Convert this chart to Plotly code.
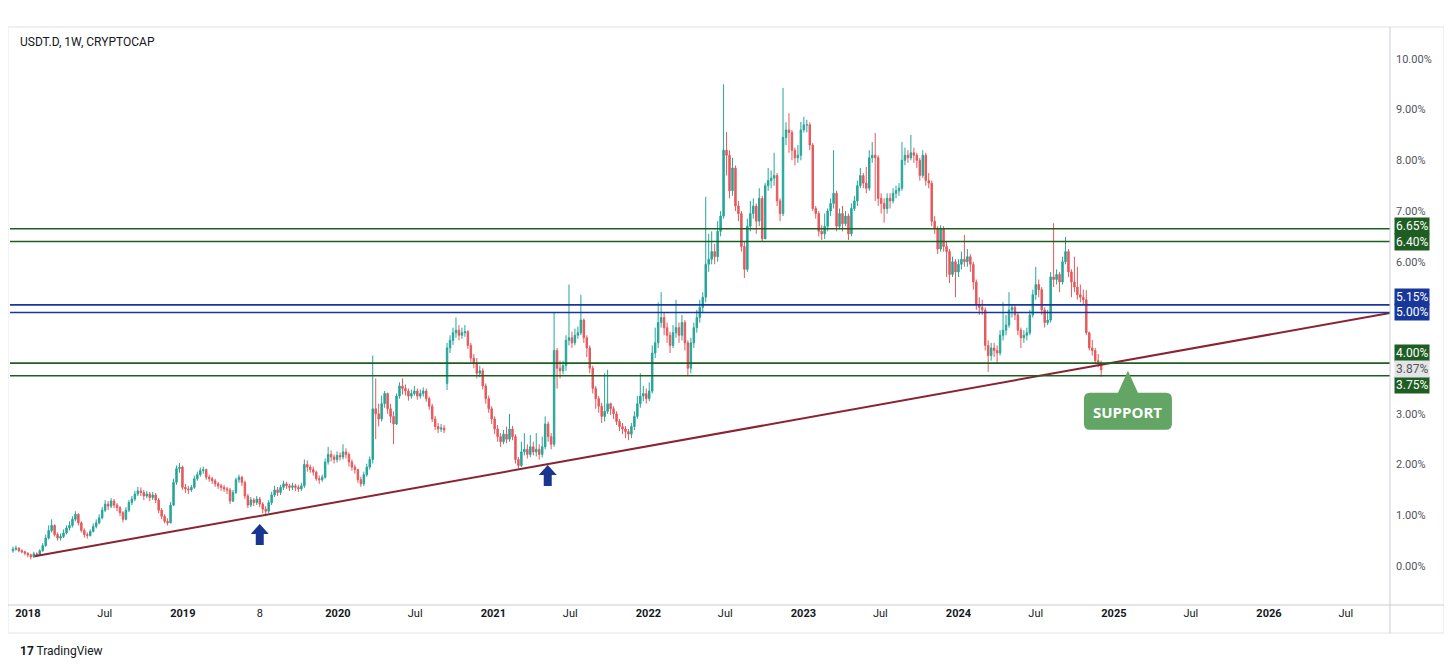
import pandas as pd
import plotly.graph_objects as go

# weekly USDT dominance candles (%), first week 2017-11-27
first_open = 0.30
closes = [
    0.33, 0.35, 0.30, 0.28, 0.25, 0.22, 0.18, 0.24, 0.22, 0.30,
    0.40, 0.55, 0.70, 0.80, 0.62, 0.55, 0.58, 0.65, 0.75, 0.80,
    0.92, 1.02, 0.85, 0.70, 0.62, 0.60, 0.68, 0.78, 0.85, 0.95,
    1.10, 1.22, 1.18, 1.28, 1.20, 1.15, 1.05, 0.92, 1.10, 1.25,
    1.32, 1.42, 1.48, 1.45, 1.38, 1.42, 1.35, 1.40, 1.30, 1.10,
    0.98, 0.88, 0.85, 1.20, 1.65, 1.92, 1.95, 1.55, 1.52, 1.50,
    1.55, 1.72, 1.80, 1.88, 1.90, 1.75, 1.72, 1.68, 1.62, 1.58,
    1.55, 1.52, 1.50, 1.28, 1.45, 1.70, 1.75, 1.65, 1.38, 1.20,
    1.30, 1.25, 1.32, 1.22, 1.12, 1.08, 1.25, 1.40, 1.50, 1.45,
    1.55, 1.62, 1.58, 1.55, 1.58, 1.55, 1.52, 1.58, 2.00, 1.95,
    1.90, 1.85, 1.72, 1.70, 1.75, 2.05, 2.20, 2.15, 2.10, 2.18,
    2.15, 2.25, 2.20, 2.05, 1.95, 1.90, 1.70, 1.62, 1.80,
    1.95, 2.10, 3.10, 3.00, 2.90, 3.20, 3.40, 3.10, 2.95, 2.80,
    3.35, 3.55, 3.50, 3.45, 3.35, 3.40, 3.45, 3.35, 3.40, 3.45,
    3.30, 3.15, 2.90, 2.75, 2.70, 2.72, 2.68, 4.30, 4.45, 4.60,
    4.65, 4.55, 4.60, 4.62, 4.35, 4.10, 4.00, 3.80, 3.85, 3.55,
    3.30, 3.10, 2.90, 2.70, 2.55, 2.45, 2.60, 2.50, 2.70, 2.55,
    2.10, 1.98, 2.25, 2.30, 2.20, 2.35, 2.25, 2.30, 2.20, 2.35,
    2.80, 2.55, 2.40, 4.25, 3.90, 3.85, 3.95, 4.45, 4.50, 4.40,
    4.55, 4.60, 4.85, 4.50, 4.30, 3.90, 3.50, 3.30, 3.15, 2.95,
    3.05, 3.20, 3.10, 3.00, 2.85, 2.75, 2.70, 2.65, 2.60,
    2.75, 2.95, 3.20, 3.35, 3.40, 3.30, 3.45, 4.20, 4.40, 4.80,
    4.90, 4.70, 4.55, 4.35, 4.60, 4.70, 4.55, 4.80, 4.40, 3.90,
    4.40, 4.70, 4.90, 5.10, 5.30, 5.95, 6.05, 6.20, 6.10, 6.60,
    6.90, 8.20, 8.10, 7.40, 7.85, 7.10, 6.95, 6.30, 5.85, 6.70,
    6.95, 7.10, 6.80, 7.25, 6.45, 7.50, 7.60, 7.65, 7.70, 7.20,
    6.95, 8.45, 8.60, 8.55, 8.20, 8.05, 8.10, 8.60, 8.70, 8.70,
    8.30, 7.05, 6.95, 6.60, 6.55, 6.70, 7.00, 7.15, 7.35,
    6.70, 6.95, 6.75, 6.90, 6.55, 7.05, 7.20, 7.50, 7.70, 7.55,
    7.45, 8.05, 8.10, 8.05, 7.25, 7.15, 7.05, 7.25, 7.20, 7.35,
    7.40, 7.45, 8.00, 8.10, 8.05, 8.15, 8.10, 8.00, 7.70, 8.10,
    7.60, 7.55, 6.80, 6.65, 6.25, 6.65, 6.30, 6.20, 5.75, 6.00,
    5.80, 5.95, 6.05, 6.00, 6.10, 5.95, 5.60, 5.15, 5.10, 5.05,
    4.35, 4.15, 4.30, 4.25, 4.20, 4.55, 4.65, 4.75, 5.05, 5.10,
    4.95, 4.65, 4.50, 4.55, 4.60, 4.95, 5.35, 5.55, 5.45, 5.05,
    4.80, 4.85, 5.70, 5.65, 5.75, 5.60, 6.00, 6.20, 5.80, 5.60,
    5.50, 5.35, 5.30, 5.25, 4.60, 4.30, 4.25, 4.05, 4.00, 3.87,
]
highs = [
    0.38, 0.40, 0.37, 0.33, 0.30, 0.27, 0.24, 0.28, 0.27, 0.33,
    0.45, 0.62, 0.80, 0.92, 0.82, 0.66, 0.64, 0.72, 0.80, 0.88,
    0.98, 1.08, 1.04, 0.88, 0.74, 0.66, 0.72, 0.84, 0.92, 1.02,
    1.16, 1.30, 1.28, 1.34, 1.32, 1.24, 1.18, 1.08, 1.16, 1.30,
    1.38, 1.48, 1.56, 1.55, 1.50, 1.48, 1.46, 1.46, 1.44, 1.34,
    1.14, 1.02, 0.94, 1.26, 1.72, 1.98, 2.03, 1.98, 1.62, 1.58,
    1.60, 1.78, 1.86, 1.94, 1.96, 1.92, 1.80, 1.76, 1.72, 1.66,
    1.62, 1.60, 1.56, 1.54, 1.50, 1.74, 1.80, 1.78, 1.68, 1.42,
    1.36, 1.34, 1.38, 1.36, 1.26, 1.18, 1.30, 1.46, 1.58, 1.56,
    1.60, 1.68, 1.66, 1.62, 1.64, 1.62, 1.60, 1.64, 2.10, 2.08,
    2.00, 1.96, 1.88, 1.78, 1.80, 2.12, 2.35, 2.28, 2.20, 2.26,
    2.24, 2.40, 2.32, 2.24, 2.10, 2.00, 1.92, 1.76, 1.86,
    2.02, 2.16, 4.15, 3.70, 3.20, 3.36, 3.45, 3.42, 3.20, 3.05,
    3.40, 3.62, 3.70, 3.58, 3.50, 3.48, 3.55, 3.50, 3.48, 3.52,
    3.50, 3.34, 3.20, 2.96, 2.82, 2.80, 2.78, 4.40, 4.55, 4.70,
    4.90, 4.75, 4.70, 4.75, 4.65, 4.40, 4.18, 4.10, 3.95, 3.90,
    3.60, 3.36, 3.15, 2.95, 2.78, 2.62, 2.68, 2.75, 3.00, 2.76,
    2.60, 2.15, 2.45, 2.62, 2.40, 2.58, 2.45, 2.62, 2.40, 2.55,
    2.95, 2.85, 2.62, 5.00, 4.30, 4.05, 4.05, 4.55, 5.55, 4.62,
    4.68, 4.72, 5.35, 4.88, 4.55, 4.35, 3.95, 3.55, 3.35, 3.22,
    3.80, 3.87, 3.22, 3.15, 3.05, 2.90, 2.82, 2.76, 2.70,
    2.82, 3.05, 3.35, 3.80, 3.55, 3.50, 3.62, 4.35, 4.70, 5.20,
    5.40, 5.00, 4.80, 4.62, 4.75, 5.25, 4.80, 4.95, 4.85, 4.45,
    4.50, 4.80, 5.05, 5.25, 5.40, 7.28, 6.55, 6.60, 6.35, 6.80,
    7.00, 9.50, 8.56, 8.20, 8.05, 7.90, 7.20, 7.00, 6.40, 6.85,
    7.20, 7.25, 7.15, 7.45, 7.30, 7.55, 7.85, 7.80, 8.15, 7.75,
    7.25, 9.43, 8.75, 8.93, 8.60, 8.25, 8.30, 8.76, 8.86, 8.80,
    8.75, 8.34, 7.10, 7.00, 6.72, 6.95, 7.05, 7.25, 8.20,
    7.40, 7.05, 7.10, 7.00, 6.95, 7.15, 7.30, 7.60, 7.85, 7.75,
    7.87, 8.20, 8.36, 8.54, 8.10, 7.35, 7.25, 7.35, 7.35, 7.45,
    7.50, 7.55, 8.36, 8.25, 8.20, 8.50, 8.25, 8.15, 8.05, 8.20,
    8.15, 7.75, 7.60, 6.90, 6.70, 6.72, 6.70, 6.40, 6.25, 6.10,
    6.05, 6.05, 6.20, 6.53, 6.25, 6.15, 6.00, 5.65, 5.30, 5.25,
    5.10, 4.45, 4.40, 4.40, 4.35, 4.65, 5.20, 4.95, 5.40, 5.15,
    5.15, 5.00, 4.70, 4.65, 4.70, 5.05, 5.45, 5.90, 5.65, 5.50,
    5.10, 5.05, 5.80, 6.76, 5.85, 5.80, 6.10, 6.49, 6.25, 5.85,
    6.10, 5.90, 5.55, 5.45, 5.44, 4.62, 4.46, 4.30, 4.18, 4.05,
]
lows = [
    0.26, 0.30, 0.27, 0.25, 0.21, 0.17, 0.13, 0.16, 0.18, 0.20,
    0.28, 0.38, 0.52, 0.66, 0.58, 0.50, 0.50, 0.55, 0.62, 0.70,
    0.76, 0.88, 0.80, 0.66, 0.56, 0.54, 0.58, 0.66, 0.74, 0.82,
    0.92, 1.06, 1.10, 1.14, 1.14, 1.08, 0.98, 0.86, 0.90, 1.06,
    1.20, 1.28, 1.38, 1.38, 1.30, 1.34, 1.28, 1.30, 1.24, 1.04,
    0.92, 0.84, 0.80, 0.84, 1.18, 1.60, 1.84, 1.50, 1.44, 1.42,
    1.46, 1.52, 1.68, 1.76, 1.82, 1.70, 1.66, 1.62, 1.56, 1.52,
    1.48, 1.46, 1.42, 1.22, 1.26, 1.42, 1.64, 1.58, 1.32, 1.14,
    1.16, 1.18, 1.20, 1.16, 1.04, 0.98, 1.04, 1.20, 1.36, 1.38,
    1.40, 1.50, 1.52, 1.48, 1.50, 1.48, 1.46, 1.48, 1.54, 1.86,
    1.84, 1.78, 1.68, 1.62, 1.66, 1.72, 2.00, 2.06, 2.02, 2.04,
    2.08, 2.10, 2.12, 1.96, 1.88, 1.82, 1.64, 1.56, 1.58,
    1.76, 1.90, 2.02, 2.50, 2.75, 2.85, 3.12, 3.00, 2.82, 2.40,
    2.78, 3.30, 3.38, 3.36, 3.26, 3.30, 3.36, 3.28, 3.30, 3.34,
    3.24, 3.08, 2.84, 2.68, 2.62, 2.64, 2.62, 3.47, 4.20, 4.36,
    4.50, 4.45, 4.48, 4.52, 4.28, 4.02, 3.90, 3.70, 3.72, 3.48,
    3.20, 3.02, 2.80, 2.60, 2.45, 2.35, 2.40, 2.42, 2.45, 2.48,
    2.02, 1.92, 1.95, 2.18, 2.12, 2.15, 2.18, 2.16, 2.10, 2.14,
    2.30, 2.45, 2.30, 2.35, 3.50, 3.70, 3.78, 3.85, 4.35, 4.30,
    4.35, 4.48, 4.55, 4.40, 4.12, 3.80, 3.40, 3.10, 3.02, 2.82,
    2.85, 3.00, 2.98, 2.90, 2.78, 2.66, 2.60, 2.52, 2.48,
    2.52, 2.68, 2.90, 3.12, 3.25, 3.20, 3.25, 3.40, 4.10, 4.30,
    4.70, 4.55, 4.40, 4.20, 4.30, 4.50, 4.40, 4.45, 4.25, 3.75,
    3.80, 4.30, 4.60, 4.80, 5.00, 5.20, 5.80, 5.95, 5.95, 6.00,
    6.50, 6.85, 7.70, 7.25, 7.30, 7.00, 6.80, 6.20, 5.68, 5.80,
    6.60, 6.85, 6.55, 6.70, 6.40, 6.45, 7.40, 7.45, 7.50, 7.10,
    6.80, 6.90, 8.30, 8.15, 8.00, 7.90, 7.95, 8.00, 8.55, 8.55,
    8.20, 7.00, 6.85, 6.50, 6.43, 6.45, 6.60, 6.90, 7.05,
    6.60, 6.65, 6.60, 6.70, 6.43, 6.50, 7.00, 7.10, 7.45, 7.45,
    7.35, 7.40, 7.95, 7.20, 7.10, 6.95, 6.77, 6.95, 7.05, 7.15,
    7.25, 7.30, 7.40, 7.90, 7.95, 8.00, 7.95, 7.85, 7.60, 7.65,
    7.50, 7.45, 6.70, 6.55, 6.15, 6.20, 6.20, 5.70, 5.58, 5.70,
    5.30, 5.70, 5.85, 5.90, 5.90, 5.80, 5.45, 5.05, 4.95, 4.95,
    4.25, 3.83, 4.05, 4.12, 4.00, 4.15, 4.45, 4.55, 4.70, 4.90,
    4.85, 4.55, 4.30, 4.40, 4.45, 4.55, 4.90, 5.25, 5.30, 4.95,
    4.70, 4.75, 4.80, 5.50, 5.55, 5.40, 5.55, 5.95, 5.70, 5.30,
    5.40, 5.25, 5.20, 5.15, 4.55, 4.25, 4.15, 3.98, 3.92, 3.73,
]
# weeks where the open gapped away from the prior close
open_overrides = {146: 3.60}

# horizontal levels (%)
green_levels = [6.65, 6.40, 4.00, 3.75]
blue_levels = [5.15, 5.00]
last_price = 3.87

# rising support trendline
trend_dates = ["2018-01-17", "2026-10-13"]
trend_values = [0.19, 4.99]

# markers
arrow_points = [("2019-07-01", 0.83), ("2021-05-09", 1.99)]
support_tip = ("2025-02-03", 3.85)

tick_dates = ["2018-01-01", "2018-07-01", "2019-01-01", "2019-07-01", "2020-01-01",
              "2020-07-01", "2021-01-01", "2021-07-01", "2022-01-01", "2022-07-01",
              "2023-01-01", "2023-07-01", "2024-01-01", "2024-07-01", "2025-01-01",
              "2025-07-01", "2026-01-01", "2026-07-01"]
tick_labels = ["<b>2018</b>", "Jul", "<b>2019</b>", "8", "<b>2020</b>", "Jul",
               "<b>2021</b>", "Jul", "<b>2022</b>", "Jul", "<b>2023</b>", "Jul",
               "<b>2024</b>", "Jul", "<b>2025</b>", "Jul", "<b>2026</b>", "Jul"]
# 4% and 5% sit under the level boxes
y_ticks = [0, 1, 2, 3, 6, 7, 8, 9, 10]

dates = pd.date_range("2017-11-27", periods=len(closes), freq="7D")
opens = [first_open] + closes[:-1]
for k, v in open_overrides.items():
    opens[k] = v

FONT = "Roboto, 'Open Sans', sans-serif"
GREEN = "#1e5e22"
BLUE = "#17379b"
UP = "#26a69a"
DOWN = "#e6595c"

fig = go.Figure()
fig.add_trace(go.Candlestick(
    x=dates, open=opens, high=highs, low=lows, close=closes,
    increasing=dict(line=dict(color=UP, width=1), fillcolor=UP),
    decreasing=dict(line=dict(color=DOWN, width=1), fillcolor=DOWN),
    whiskerwidth=0, showlegend=False, hoverinfo="skip",
))

fig.add_trace(go.Scatter(
    x=trend_dates, y=trend_values, mode="lines",
    line=dict(color="#8a2332", width=2), showlegend=False, hoverinfo="skip",
))

shapes = []
annotations = []

# horizontal lines + price-scale boxes
label_shift = {6.65: 3, 6.40: -1, 5.15: 8, 5.00: 0, 4.00: 10, 3.75: -9}
for lvl in green_levels + blue_levels:
    col = GREEN if lvl in green_levels else BLUE
    shapes.append(dict(type="line", xref="paper", x0=0, x1=1, yref="y", y0=lvl, y1=lvl,
                       line=dict(color=col, width=1.6), layer="above"))
    annotations.append(dict(xref="paper", x=1.003, xanchor="left", yref="y", y=lvl,
                            yshift=label_shift[lvl], text=f"{lvl:.2f}%", showarrow=False,
                            bgcolor=col, borderpad=1, font=dict(color="white", size=12, family=FONT)))
annotations.append(dict(xref="paper", x=1.003, xanchor="left", yref="y", y=last_price,
                        yshift=1, text=f"{last_price:.2f}%", showarrow=False,
                        bgcolor="#e3e4e8", borderpad=1, font=dict(color="#555", size=12, family=FONT)))

# blue arrows
arrow_path = "M 0,0 L 9,-10 L 4,-10 L 4,-21 L -4,-21 L -4,-10 L -9,-10 Z"
for d, v in arrow_points:
    shapes.append(dict(type="path", xref="x", yref="y", xsizemode="pixel", ysizemode="pixel",
                       xanchor=d, yanchor=v, path=arrow_path,
                       fillcolor="#1a3590", line=dict(width=0), layer="above"))

# support callout
callout = ("M 0,0 L 10,-22 L 38,-22 Q 44,-22 44,-28 L 44,-53 Q 44,-59 38,-59 "
           "L -38,-59 Q -44,-59 -44,-53 L -44,-28 Q -44,-22 -38,-22 L -10,-22 Z")
shapes.append(dict(type="path", xref="x", yref="y", xsizemode="pixel", ysizemode="pixel",
                   xanchor=support_tip[0], yanchor=support_tip[1], path=callout,
                   fillcolor="#62a564", line=dict(width=0), layer="above"))
annotations.append(dict(x=support_tip[0], y=support_tip[1], xref="x", yref="y", yshift=-41,
                        text="<b>SUPPORT</b>", showarrow=False,
                        font=dict(color="white", size=15, family="'Open Sans', sans-serif")))

# panel frame
shapes.append(dict(type="rect", xref="paper", yref="paper", x0=-0.0015, x1=1.0391,
                   y0=-0.0485, y1=1.0017, line=dict(color="#e0e3eb", width=1)))
shapes.append(dict(type="line", xref="paper", yref="paper", x0=1, x1=1, y0=-0.0485, y1=1.0017,
                   line=dict(color="#c9ccd4", width=1)))
shapes.append(dict(type="line", xref="paper", yref="paper", x0=-0.0015, x1=1.0391, y0=0, y1=0,
                   line=dict(color="#c9ccd4", width=1)))

# title and logo
annotations.append(dict(xref="paper", yref="paper", x=0.0058, y=0.975, xanchor="left", yanchor="middle",
                        text="USDT.D, 1W, CRYPTOCAP", showarrow=False,
                        font=dict(color="#131722", size=12, family=FONT)))
annotations.append(dict(xref="paper", yref="paper", x=0.0058, y=-0.0797, xanchor="left", yanchor="middle",
                        text="<b>17</b> TradingView", showarrow=False,
                        font=dict(color="#131722", size=12, family=FONT)))

# page body adds an 8px margin, so the figure is 8px smaller and margins shifted
fig.update_layout(
    width=1444, height=661,
    margin=dict(l=2, r=62, t=20, b=64),
    paper_bgcolor="white", plot_bgcolor="white",
    font=dict(family=FONT, color="#131722"),
    shapes=shapes, annotations=annotations,
    xaxis=dict(
        range=["2017-11-20", "2026-10-13"], rangeslider=dict(visible=False),
        showgrid=False, zeroline=False, tickvals=tick_dates, ticktext=tick_labels,
        tickfont=dict(size=11, color="#131722"), ticks="",
    ),
    yaxis=dict(
        range=[-0.77, 10.61], side="right", showgrid=False, zeroline=False,
        tickvals=y_ticks, ticktext=[f"{t:.2f}%" for t in y_ticks],
        tickfont=dict(size=11, color="#50535e"), ticks="", ticklabelstandoff=5,
    ),
)

fig.write_html("out.html")
